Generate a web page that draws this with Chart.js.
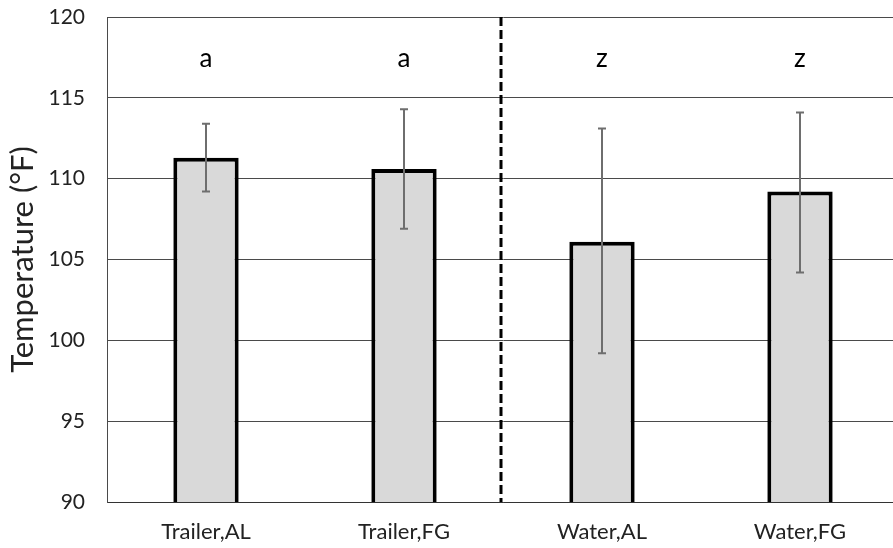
<!DOCTYPE html>
<html>
<head>
<meta charset="utf-8">
<script src="https://cdn.jsdelivr.net/npm/chart.js@4.4.1/dist/chart.umd.min.js"></script>
<style>
	html, body { margin: 0; padding: 0; background: #fff; overflow: hidden; }
	#wrap { width: 899px; height: 548px; }
</style>
</head>
<body>
<div id="wrap"><canvas id="tempChart"></canvas></div>
<script>
// data
var categories = ["Trailer,AL", "Trailer,FG", "Water,AL", "Water,FG"];
var means = [111.3, 110.6, 106.1, 109.2];
var errLow = [109.2, 106.9, 99.2, 104.2];
var errHigh = [113.4, 114.3, 113.1, 114.1];
var groupLetters = ["a", "a", "z", "z"];
var yTicks = [90, 95, 100, 105, 110, 115, 120];

// error bars, group letters and the dashed divider
var extras = {
	id: 'extras',
	afterDatasetsDraw: function(chart) {
		var ctx = chart.ctx;
		var x = chart.scales.x, y = chart.scales.y;
		var area = chart.chartArea;
		ctx.save();

		// dashed divider between the two groups
		var xd = (x.getPixelForValue(1) + x.getPixelForValue(2)) / 2 - 2;
		ctx.strokeStyle = '#000';
		ctx.lineWidth = 3;
		ctx.setLineDash([9, 4]);
		ctx.beginPath();
		ctx.moveTo(xd, area.top);
		ctx.lineTo(xd, area.bottom);
		ctx.stroke();
		ctx.setLineDash([]);

		// error bars
		ctx.strokeStyle = '#6e6e6e';
		ctx.lineWidth = 2;
		for (var i = 0; i < categories.length; i++) {
			var cx = x.getPixelForValue(i);
			var yl = y.getPixelForValue(errLow[i]);
			var yh = y.getPixelForValue(errHigh[i]);
			ctx.beginPath();
			ctx.moveTo(cx, yl); ctx.lineTo(cx, yh);
			ctx.moveTo(cx - 4, yl); ctx.lineTo(cx + 4, yl);
			ctx.moveTo(cx - 4, yh); ctx.lineTo(cx + 4, yh);
			ctx.stroke();
		}

		// letters
		ctx.fillStyle = '#000';
		ctx.font = '26px Lato';
		ctx.textAlign = 'center';
		ctx.textBaseline = 'middle';
		for (var j = 0; j < groupLetters.length; j++) {
			ctx.fillText(groupLetters[j], x.getPixelForValue(j), y.getPixelForValue(117.4));
		}
		ctx.restore();
	}
};

var ctx = document.getElementById("tempChart");
var tempChart = new Chart(ctx, {
	type: 'bar',
	data: {
		labels: categories,
		datasets: [{
			data: means,
			backgroundColor: '#d9d9d9',
			borderColor: '#000',
			borderWidth: 4,
			borderSkipped: false,
			barPercentage: 0.33,
			categoryPercentage: 1
		}]
	},
	options: {
		responsive: true,
		maintainAspectRatio: false,
		animation: false,
		layout: { padding: 0 },
		plugins: {
			legend: { display: false },
			tooltip: { enabled: false }
		},
		scales: {
			x: {
				afterFit: function(s) { s.height = 46; },
				grid: { display: false, drawTicks: false },
				border: { color: '#333', width: 1 },
				ticks: { color: '#222', font: { family: 'Lato', size: 22 }, padding: 17 }
			},
			y: {
				min: 90,
				max: 120,
				afterFit: function(s) {
					s.width = 107;
					s.paddingTop = 17;
					s.paddingBottom = 0;
				},
				afterBuildTicks: function(s) { s.ticks = yTicks.map(function(v) { return { value: v }; }); },
				grid: { color: '#4a4a4a', drawTicks: false },
				border: { color: '#4a4a4a', width: 1 },
				ticks: { color: '#222', font: { family: 'Lato', size: 21 }, padding: 22 },
				title: {
					display: true,
					text: 'Temperature (°F)',
					color: '#222',
					font: { family: 'Lato', size: 31 },
					padding: { top: 4, bottom: 0 }
				}
			}
		}
	},
	plugins: [extras]
});
</script>
</body>
</html>
